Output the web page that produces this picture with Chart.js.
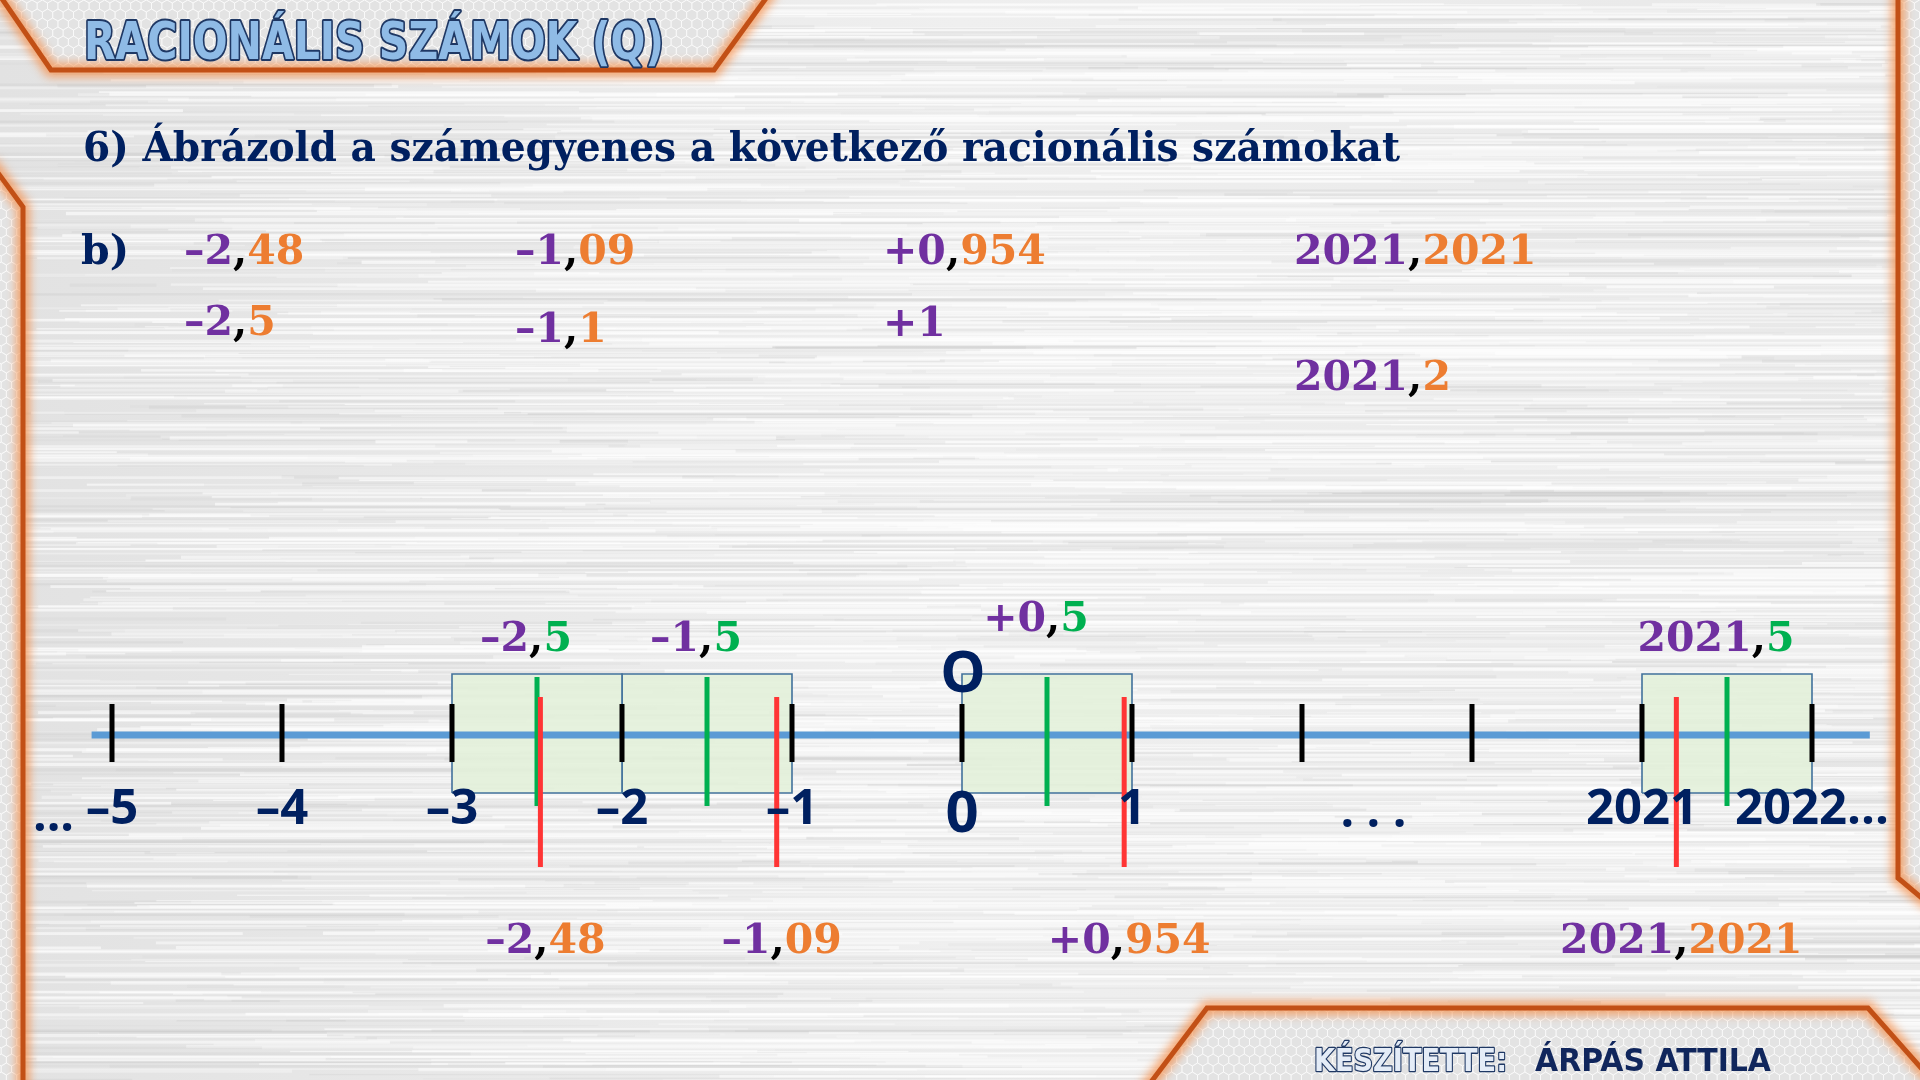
<!DOCTYPE html>
<html><head><meta charset="utf-8">
<script src="https://cdn.jsdelivr.net/npm/chart.js@4.4.1/dist/chart.umd.min.js"></script>
<style>html,body{margin:0;padding:0;background:#e9e9e9;overflow:hidden}canvas{display:block}</style>
</head><body>
<canvas id="c" width="1920" height="1080"></canvas>
<script>
// ---------------- data ----------------
const titleText   = 'RACIONÁLIS SZÁMOK (Q)';
const headingText = '6) Ábrázold a számegyenes a következő racionális számokat';
const partLabel   = 'b)';
const listRow1 = ['–2,48', '–1,09', '+0,954', '2021,2021'];
const listRow2 = ['–2,5', '–1,1', '+1', '2021,2'];
const tickPositions = [-5, -4, -3, -2, -1, 0, 1, 2, 3, 4, 5];
const tickLabels    = ['–5', '–4', '–3', '–2', '–1', '0', '1', '', '', '2021', '2022...'];
const unitIntervals = [[-3, -2], [-2, -1], [0, 1], [2021, 2022]];
const halfValues  = [-2.5, -1.5, 0.5, 2021.5];
const halfLabels  = ['–2,5', '–1,5', '+0,5', '2021,5'];
const pointValues = [-2.48, -1.09, 0.954, 2021.2021];
const pointLabels = ['–2,48', '–1,09', '+0,954', '2021,2021'];
const authorLabel = 'KÉSZÍTETTE:';
const authorName  = 'ÁRPÁS ATTILA';

// axis break: the value 2021 sits on axis position 4
const BREAK_VALUE = 2021, BREAK_POS = 4;
const toAxis = v => v >= BREAK_VALUE ? v - BREAK_VALUE + BREAK_POS : v;

// ---------------- style ----------------
const PURPLE = '#7030a0', ORANGE = '#ed7d31', GREEN = '#00b050', RED = '#ff3535', NAVY = '#002060', BLUE = '#5b9bd5';
const SERIF = '"DejaVu Serif", "Liberation Serif", serif';
const SANS = '"Open Sans", "Liberation Sans", sans-serif';
const TICK = [-0.27, 0.31], GREENSPAN = [-0.71, 0.58], REDSPAN = [-1.32, 0.38], BOXSPAN = [-0.58, 0.61];
const AXIS_FROM = -5.12, AXIS_TO = 5.34;

// ---------------- helpers ----------------
function segments(values, span) {
  const out = [];
  values.forEach(v => { const u = toAxis(v); out.push({x: u, y: span[0]}, {x: u, y: span[1]}, {x: u, y: null}); });
  return out;
}
function drawNum(ctx, str, x, base, size, fracColor, align) {
  const parts = str.split(',');
  const segs = parts.length > 1 ? [[parts[0], PURPLE], [',', '#000'], [parts[1], fracColor]] : [[parts[0], PURPLE]];
  ctx.font = 'bold ' + size + 'px ' + SERIF;
  ctx.textAlign = 'left'; ctx.textBaseline = 'alphabetic';
  const ws = segs.map(s => ctx.measureText(s[0]).width);
  const total = ws.reduce((a, b) => a + b, 0);
  let cx = align === 'center' ? x - total / 2 : x;
  segs.forEach((s, i) => { ctx.fillStyle = s[1]; ctx.fillText(s[0], cx, base); cx += ws[i]; });
}
function fitText(ctx, text, x, base, font, width, fill, stroke, lw) {
  ctx.save();
  ctx.font = font; ctx.textAlign = 'left'; ctx.textBaseline = 'alphabetic';
  const s = width / ctx.measureText(text).width;
  ctx.translate(x, base); ctx.scale(s, 1);
  if (stroke) { ctx.lineJoin = 'round'; ctx.strokeStyle = stroke; ctx.lineWidth = lw / s; ctx.strokeText(text, 0, 0); }
  ctx.fillStyle = fill; ctx.fillText(text, 0, 0);
  ctx.restore();
}
function polyPath(ctx, pts) { ctx.beginPath(); pts.forEach((p, i) => i ? ctx.lineTo(p[0], p[1]) : ctx.moveTo(p[0], p[1])); }

function drawBackground(ctx, W, H) {
  const g = ctx.createLinearGradient(0, 0, W, 0);
  g.addColorStop(0, '#e2e2e2'); g.addColorStop(0.5, '#efefef'); g.addColorStop(1, '#e8e8e8');
  ctx.fillStyle = g; ctx.fillRect(0, 0, W, H);
  let seed = 987654321;
  const rnd = () => { seed = (seed * 1103515245 + 12345) % 2147483648; return seed / 2147483648; };
  for (let i = 0; i < 3000; i++) {
    const y = rnd() * H, x = rnd() * W * 1.2 - 200, len = 150 + rnd() * 1000, light = rnd() < 0.66;
    ctx.fillStyle = light ? 'rgba(255,255,255,' + (0.2 + rnd() * 0.45).toFixed(3) + ')' : 'rgba(185,185,185,' + (0.05 + rnd() * 0.14).toFixed(3) + ')';
    ctx.fillRect(x, y, len, 1 + rnd() * 2.5);
  }
}
function drawPanel(ctx, pts, edge) {
  ctx.save();
  polyPath(ctx, pts); ctx.closePath(); ctx.clip();
  ctx.fillStyle = '#e3e3e3'; ctx.fillRect(0, 0, 1920, 1080);
  ctx.strokeStyle = 'rgba(255,255,255,0.55)'; ctx.lineWidth = 1;
  const r = 6, hw = r * Math.sqrt(3);
  const xs = pts.map(p => p[0]), ys = pts.map(p => p[1]);
  const x0 = Math.min(...xs) - 20, x1 = Math.max(...xs) + 20, y0 = Math.min(...ys) - 20, y1 = Math.max(...ys) + 20;
  let row = 0;
  for (let y = y0; y < y1; y += r * 1.5, row++) {
    for (let x = x0 + (row % 2) * hw / 2; x < x1; x += hw) {
      ctx.beginPath();
      for (let k = 0; k < 6; k++) { const a = Math.PI / 3 * k + Math.PI / 6; const px = x + r * Math.cos(a), py = y + r * Math.sin(a); k ? ctx.lineTo(px, py) : ctx.moveTo(px, py); }
      ctx.closePath(); ctx.stroke();
    }
  }
  ctx.restore();
  ctx.save();
  ctx.lineJoin = 'miter';
  polyPath(ctx, edge);
  ctx.filter = 'blur(5px)'; ctx.strokeStyle = 'rgba(245,140,70,0.75)'; ctx.lineWidth = 14; ctx.stroke();
  ctx.filter = 'none'; ctx.strokeStyle = '#c25016'; ctx.lineWidth = 5; ctx.stroke();
  ctx.restore();
}

const decoPlugin = {
  id: 'deco',
  beforeDraw(chart) {
    const ctx = chart.ctx;
    drawBackground(ctx, 1920, 1080);
    drawPanel(ctx, [[0, -10], [51, 70], [714, 70], [772, -10]], [[-4, -10], [51, 70], [714, 70], [772, -10]]);
    drawPanel(ctx, [[-10, 162], [23, 207], [23, 1090], [-10, 1090]], [[-10, 162], [23, 207], [23, 1090]]);
    drawPanel(ctx, [[1898, -10], [1898, 878], [1930, 905], [1930, -10]], [[1898, -10], [1898, 878], [1930, 905]]);
    drawPanel(ctx, [[1150, 1090], [1207, 1008], [1868, 1008], [1930, 1078], [1930, 1090]], [[1145, 1090], [1207, 1008], [1868, 1008], [1930, 1078]]);

    ctx.save();
    const tg = ctx.createLinearGradient(0, 22, 0, 60);
    tg.addColorStop(0, '#8fbbe6'); tg.addColorStop(0.5, '#5b9bd5'); tg.addColorStop(1, '#4a88c4');
    fitText(ctx, titleText, 84, 59, 'bold 51px "DejaVu Sans", sans-serif', 580, tg, '#1f3864', 3.2);
    ctx.restore();
    fitText(ctx, headingText, 83, 161, 'bold 41px ' + SERIF, 1317, NAVY);
    ctx.font = 'bold 41px ' + SERIF; ctx.fillStyle = NAVY; ctx.textAlign = 'left'; ctx.textBaseline = 'alphabetic';
    ctx.fillText(partLabel, 81, 264);
    const colX = [184, 515, 883, 1294];
    const row2Base = [335, 342, 336, 390];
    listRow1.forEach((s, i) => drawNum(ctx, s, colX[i], 264, 41, ORANGE, 'left'));
    listRow2.forEach((s, i) => drawNum(ctx, s, colX[i], row2Base[i], 41, ORANGE, 'left'));
    fitText(ctx, authorLabel, 1314, 1071, 'bold 32px "DejaVu Sans", sans-serif', 193, '#e4ecf7', '#1f3864', 2.2);
    fitText(ctx, authorName, 1535, 1071, 'bold 32px "DejaVu Sans", sans-serif', 236, '#10265c');
  },
  afterDatasetsDraw(chart) {
    const ctx = chart.ctx, xs = chart.scales.x, ys = chart.scales.y;
    const y0 = ys.getPixelForValue(0);
    const greenNudge = [0, 0, -20, 0];
    halfValues.forEach((v, i) => drawNum(ctx, halfLabels[i], xs.getPixelForValue(toAxis(v)) - 11, y0 - 84 + greenNudge[i], 41, GREEN, 'center'));
    pointValues.forEach((v, i) => drawNum(ctx, pointLabels[i], xs.getPixelForValue(toAxis(v)) + 5, y0 + 218, 41, ORANGE, 'center'));
    ctx.font = 'bold 57px ' + SANS; ctx.fillStyle = NAVY; ctx.textAlign = 'center'; ctx.textBaseline = 'alphabetic';
    ctx.fillText('O', xs.getPixelForValue(0) + 1, y0 - 43);
    ctx.font = 'bold 48px ' + SANS;
    ctx.textAlign = 'right'; ctx.fillText('...', xs.getPixelForValue(-5) - 38, y0 + 96);
    ctx.textAlign = 'center'; ctx.fillText('. . .', xs.getPixelForValue(2.42), y0 + 92);
  }
};

const lineDs = (data, color, width, order, extra) => Object.assign({
  data, borderColor: color, borderWidth: width, pointRadius: 0, borderCapStyle: 'butt', fill: false, order, tension: 0, spanGaps: false
}, extra || {});

const boxSets = unitIntervals.map(([a, b]) => lineDs([
  {x: toAxis(a), y: BOXSPAN[0]}, {x: toAxis(a), y: BOXSPAN[1]}, {x: toAxis(b), y: BOXSPAN[1]}, {x: toAxis(b), y: BOXSPAN[0]}, {x: toAxis(a), y: BOXSPAN[0]}
], '#41719c', 1.6, 10, {fill: 'shape', backgroundColor: 'rgba(226,240,217,0.88)'}));

new Chart(document.getElementById('c'), {
  type: 'line',
  data: {
    datasets: [
      ...boxSets,
      lineDs([{x: AXIS_FROM, y: 0}, {x: AXIS_TO, y: 0}], BLUE, 7, 8),
      lineDs(segments(tickPositions.map(p => p >= BREAK_POS ? p - BREAK_POS + BREAK_VALUE : p), TICK), '#000', 5, 6),
      lineDs(segments(halfValues, GREENSPAN), GREEN, 5, 4),
      lineDs(segments(pointValues, REDSPAN), RED, 5, 2)
    ]
  },
  options: {
    responsive: false, animation: false, devicePixelRatio: 1,
    layout: {padding: 0},
    plugins: {legend: {display: false}, tooltip: {enabled: false}},
    scales: {
      x: {
        type: 'linear', min: -962 / 170, max: (1920 - 962) / 170,
        position: {y: 0},
        grid: {display: false, drawTicks: false, tickLength: 0},
        border: {display: false},
        afterBuildTicks: s => { s.ticks = tickPositions.map(v => ({value: v})); },
        afterFit: s => { s.paddingLeft = 0; s.paddingRight = 0; },
        ticks: {
          z: 1,
          autoSkip: false, maxRotation: 0, padding: 46,
          color: NAVY,
          font: c => ({family: SANS, weight: 'bold', size: (c.tick && c.tick.value === 0) ? 58 : 49}),
          callback: v => { const i = tickPositions.indexOf(v); return i >= 0 ? tickLabels[i] : ''; }
        }
      },
      y: {type: 'linear', min: -3.45, max: 7.35, display: false}
    }
  },
  plugins: [decoPlugin]
});
</script>
</body></html>
